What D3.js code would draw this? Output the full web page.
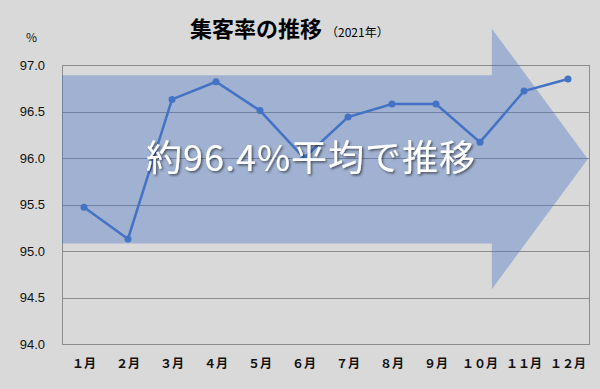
<!DOCTYPE html>
<html>
<head>
<meta charset="utf-8">
<script src="https://cdn.jsdelivr.net/npm/d3@7"></script>
<style>
  body { margin: 0; background: #d9d9d9; }
  svg { display: block; }
</style>
</head>
<body>
<div class="container"></div>
<script>
// data
var months = ["１月","２月","３月","４月","５月","６月","７月","８月","９月","１０月","１１月","１２月"];
var rates = [95.47, 95.13, 96.63, 96.82, 96.51, 96.0, 96.44, 96.58, 96.58, 96.17, 96.72, 96.85];
var yTicks = [94.0, 94.5, 95.0, 95.5, 96.0, 96.5, 97.0];
// arrow shape in data units: [category position (0..12), value]
var arrowPts = [[0, 96.89], [9.77, 96.89], [9.77, 97.39], [11.95, 95.99],
                [9.77, 94.59], [9.77, 95.08], [0, 95.08]];

var W = 600, H = 389;
var pLeft = 62, pRight = 590, pTop = 65, pBottom = 344;

function makeStage(w, h) {
    var stage = d3.select(".container")
      .append("svg")
      .attr("width", w)
      .attr("height", h);
    return stage;
}

var svg = makeStage(W, H);
svg.append("rect").attr("width", W).attr("height", H).attr("fill", "#d9d9d9");

var y = d3.scaleLinear().domain([94, 97]).range([pBottom, pTop]);
var xc = d3.scaleLinear().domain([0, 12]).range([pLeft, pRight]);
var x = d3.scaleBand().domain(months).range([pLeft, pRight]);

// gridlines
svg.append("g")
  .selectAll("line")
  .data(yTicks)
  .enter().append("line")
  .attr("x1", pLeft).attr("x2", pRight)
  .attr("y1", function(d) { return Math.round(y(d)) + 0.5; })
  .attr("y2", function(d) { return Math.round(y(d)) + 0.5; })
  .attr("stroke", "#8c8c8c")
  .attr("stroke-width", 1);

// plot border left / right
svg.append("line").attr("x1", pLeft + 0.5).attr("x2", pLeft + 0.5)
  .attr("y1", y(97)).attr("y2", y(94)).attr("stroke", "#8c8c8c");
svg.append("line").attr("x1", pRight - 0.5).attr("x2", pRight - 0.5)
  .attr("y1", y(97)).attr("y2", y(94)).attr("stroke", "#8c8c8c");

// y tick labels
var yAxis = d3.axisLeft(y).tickValues(yTicks).tickFormat(d3.format(".1f")).tickSize(0).tickPadding(17);
var ya = svg.append("g").attr("transform", "translate(" + pLeft + ",0)").call(yAxis);
ya.select(".domain").remove();
ya.selectAll("text")
  .attr("font-family", "'Liberation Sans', Arial, sans-serif")
  .attr("font-size", 13)
  .attr("fill", "#111");

// x labels
var xAxis = d3.axisBottom(x).tickSize(0).tickPadding(15);
var xa = svg.append("g").attr("transform", "translate(0," + pBottom + ")").call(xAxis);
xa.select(".domain").remove();
xa.selectAll("text")
  .attr("font-family", "'Noto Sans CJK JP', sans-serif")
  .attr("font-weight", "bold")
  .attr("font-size", 12)
  .attr("fill", "#111");

// arrow
svg.append("path")
  .attr("d", d3.line().x(function(d) { return xc(d[0]); }).y(function(d) { return y(d[1]); })(arrowPts) + "Z")
  .attr("fill", "#4472c4")
  .attr("fill-opacity", 0.38);

// line
var line = d3.line()
  .x(function(d, i) { return x(months[i]) + x.bandwidth() / 2; })
  .y(function(d) { return y(d); });

svg.append("path")
  .datum(rates)
  .attr("d", line)
  .attr("fill", "none")
  .attr("stroke", "#4472c4")
  .attr("stroke-width", 2.5);

svg.append("g")
  .selectAll("circle")
  .data(rates)
  .enter().append("circle")
  .attr("cx", function(d, i) { return x(months[i]) + x.bandwidth() / 2; })
  .attr("cy", function(d) { return y(d); })
  .attr("r", 3.5)
  .attr("fill", "#4472c4");

// big label with shadow
var defs = svg.append("defs");
var f = defs.append("filter").attr("id", "shadow").attr("x", "-10%").attr("y", "-20%").attr("width", "120%").attr("height", "140%");
f.append("feDropShadow").attr("dx", 1.5).attr("dy", 1.5).attr("stdDeviation", 1.2)
  .attr("flood-color", "#000").attr("flood-opacity", 0.55);

svg.append("text")
  .attr("x", 311).attr("y", 171)
  .attr("text-anchor", "middle")
  .attr("font-family", "'Noto Sans CJK JP', sans-serif")
  .attr("font-size", 36)
  .attr("letter-spacing", 1)
  .attr("fill", "#fff")
  .attr("filter", "url(#shadow)")
  .text("約96.4%平均で推移");

// title
svg.append("text")
  .attr("x", 190).attr("y", 37)
  .attr("font-family", "'Noto Sans CJK JP', sans-serif")
  .attr("font-weight", "bold")
  .attr("font-size", 22)
  .attr("fill", "#000")
  .text("集客率の推移");
svg.append("text")
  .attr("x", 326).attr("y", 37)
  .attr("font-family", "'Noto Sans CJK JP', sans-serif")
  .attr("font-size", 12)
  .attr("fill", "#000")
  .text("（2021年）");

svg.append("text")
  .attr("x", 26).attr("y", 42)
  .attr("font-family", "'Noto Sans CJK JP', sans-serif")
  .attr("font-size", 12)
  .attr("fill", "#111")
  .text("%");
</script>
</body>
</html>
